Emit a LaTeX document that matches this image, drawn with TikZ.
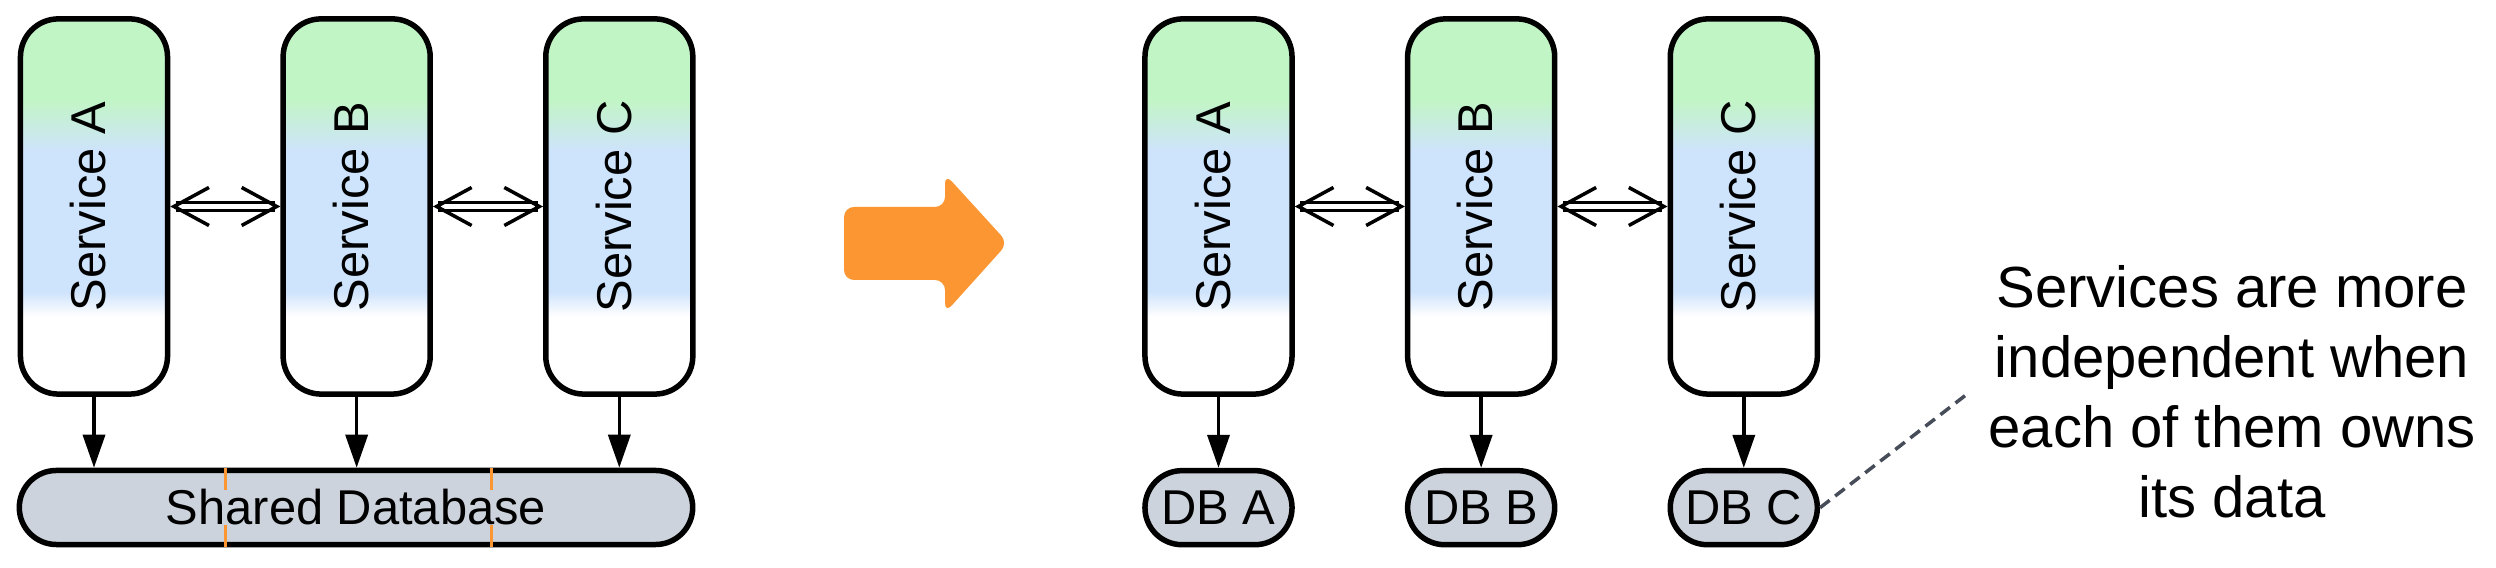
\documentclass[tikz,border=0pt]{standalone}
\usepackage{fontspec}
\setmainfont{Liberation Sans}
\usetikzlibrary{arrows.meta,positioning}

\definecolor{svcgreen}{RGB}{194,245,198}
\definecolor{svcblue}{RGB}{206,227,252}
\definecolor{dbgray}{RGB}{205,211,220}
\definecolor{dashgray}{RGB}{70,76,88}
\definecolor{arrorange}{RGB}{251,150,51}

\newcommand{\lblfont}{\fontsize{13.9pt}{16.7pt}\selectfont}
\newcommand{\notefont}{\fontsize{16.5pt}{19.9pt}\selectfont}

\pgfdeclareverticalshading{svcshade}{100bp}{color(0bp)=(white); color(35.3bp)=(white); color(38.7bp)=(svcblue); color(57.3bp)=(svcblue); color(64.2bp)=(svcgreen); color(100bp)=(svcgreen)}

\tikzset{
  svc/.style={draw, line width=0.055cm, rounded corners=0.38cm, minimum width=1.47cm, minimum height=3.75cm, inner sep=0, shade, shading=svcshade, font=\lblfont},
  dbbox/.style={draw, fill=dbgray, line width=0.055cm, rounded corners=0.37cm, minimum width=1.47cm, minimum height=0.74cm, inner sep=0, font=\lblfont},
  flow/.style={line width=0.035cm, -{Triangle[length=0.33cm,width=0.22cm]}},
  link/.style={double, double distance=0.045cm, line width=0.03cm, arrows={Straight Barb[length=0.35cm,width=0.38cm,line width'=0.035cm]-Straight Barb[length=0.35cm,width=0.38cm,line width'=0.035cm]}},
  tick/.style={arrorange, line width=0.03cm},
  noteline/.style={dashgray, line width=0.035cm, dash pattern=on 0.12cm off 0.07cm},
  note/.style={align=center, inner sep=0.18cm, font=\notefont}
}

\begin{document}
\begin{tikzpicture}[x=0.01cm, y=-0.01cm]
  \useasboundingbox (0,0) rectangle (2496,568);

  % shared database
  \node[svc] (lsa) at (94,206.5) {\rotatebox{90}{\strut Service A}};
  \node[svc, right=1.10cm of lsa] (lsb) {\rotatebox{90}{\strut Service B}};
  \node[svc, right=1.10cm of lsb] (lsc) {\rotatebox{90}{\strut Service C}};
  \node[dbbox, minimum width=6.73cm] (sdb) at (356,507.5) {};
  \draw[tick] (225,0 |- sdb.north) -- (225,0 |- sdb.south);
  \draw[tick] (491,0 |- sdb.north) -- (491,0 |- sdb.south);
  \node[font=\lblfont, fill=dbgray, inner sep=0] (sdbtext) at (sdb) {Shared Database};

  \draw[link] (lsa) -- (lsb);
  \draw[link] (lsb) -- (lsc);
  \draw[flow] (lsa) -- (lsa |- sdb.north);
  \draw[flow] (lsb) -- (lsb |- sdb.north);
  \draw[flow] (lsc) -- (lsc |- sdb.north);

  % big arrow
  \fill[arrorange, rounded corners=0.1cm] (844,207) -- (945,207) -- (945,174) -- (1008,243) -- (945,313) -- (945,280) -- (844,280) -- cycle;

  % one database per service
  \node[svc] (rsa) at (1218.5,206.5) {\rotatebox{90}{\strut Service A}};
  \node[svc, right=1.10cm of rsa] (rsb) {\rotatebox{90}{\strut Service B}};
  \node[svc, right=1.10cm of rsb] (rsc) {\rotatebox{90}{\strut Service C}};
  \node[dbbox, below=0.71cm of rsa] (dba) {DB A};
  \node[dbbox, below=0.71cm of rsb] (dbb) {DB B};
  \node[dbbox, below=0.71cm of rsc] (dbc) {DB C};

  \draw[link] (rsa) -- (rsb);
  \draw[link] (rsb) -- (rsc);
  \draw[flow] (rsa) -- (dba);
  \draw[flow] (rsb) -- (dbb);
  \draw[flow] (rsc) -- (dbc);

  \node[note] (note) at (2232,392) {Services are more\\independent when\\each of them owns\\its data};
  \draw[noteline] (dbc.east) -- (note.west);
\end{tikzpicture}
\end{document}
